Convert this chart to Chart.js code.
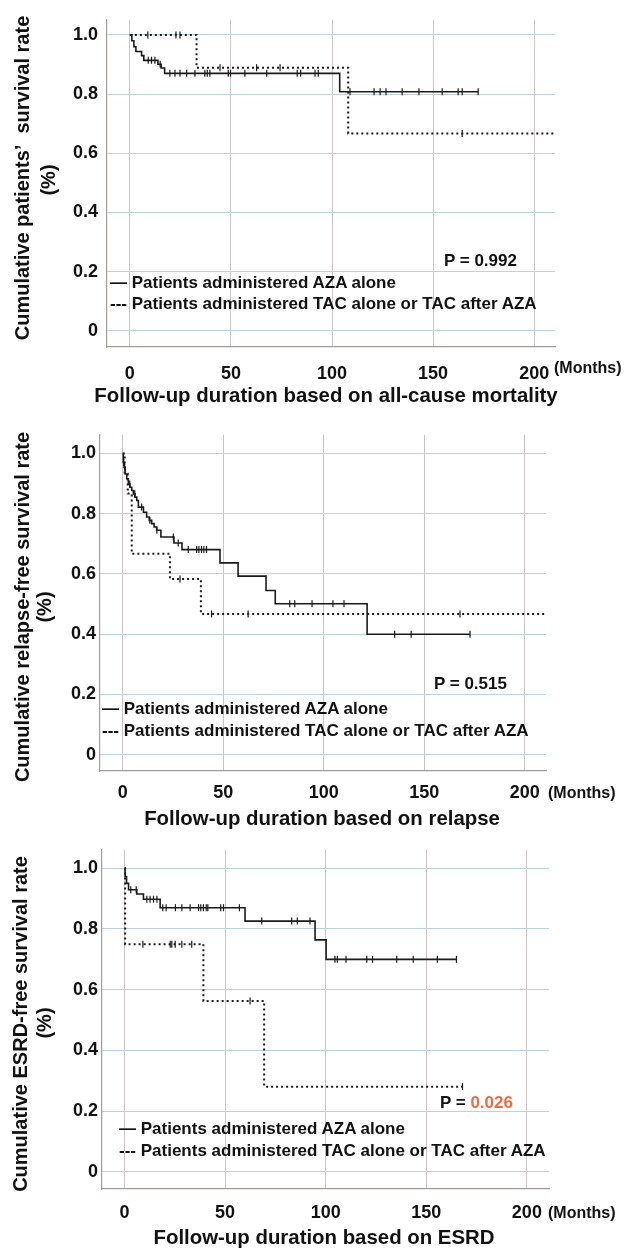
<!DOCTYPE html>
<html><head><meta charset="utf-8">
<script src="https://cdn.jsdelivr.net/npm/chart.js@4.4.1/dist/chart.umd.min.js"></script>
<style>
body{margin:0;background:#fff;}
#wrap{position:relative;width:627px;height:1249px;overflow:hidden;font-family:"Liberation Sans",Arial,sans-serif;font-weight:bold;color:#111;}
canvas{position:absolute;left:0;}
.t{position:absolute;white-space:nowrap;line-height:1;}
.c{transform:translate(-50%,-50%);}
.l{transform:translateY(-50%);}
.r{transform:translate(-50%,-50%) rotate(-90deg);}
.title{font-size:20.4px;}
.yt{font-size:20px;}
.lg{font-size:17px;}
.pv{font-size:17px;}
.mo{font-size:16px;}
</style></head>
<body><div id="wrap">
<canvas id="c1"></canvas><canvas id="c2"></canvas><canvas id="c3"></canvas>

<div class="t r yt" style="left:22px;top:178px;">Cumulative patients’&nbsp; survival rate</div>
<div class="t r yt" style="left:48px;top:180px;">(%)</div>
<div class="t l pv" style="left:444px;top:260px;">P = 0.992</div>
<div class="t l lg" style="left:110px;top:282px;">— Patients administered AZA alone</div>
<div class="t l lg" style="left:110px;top:303px;">--- Patients administered TAC alone or TAC after AZA</div>
<div class="t l mo" style="left:554px;top:368px;">(Months)</div>
<div class="t c title" style="left:326px;top:395px;">Follow-up duration based on all-cause mortality</div>

<div class="t r yt" style="left:22px;top:607px;">Cumulative relapse-free survival rate</div>
<div class="t r yt" style="left:44px;top:607px;">(%)</div>
<div class="t l pv" style="left:434px;top:683px;">P = 0.515</div>
<div class="t l lg" style="left:102px;top:708px;">— Patients administered AZA alone</div>
<div class="t l lg" style="left:102px;top:730px;">--- Patients administered TAC alone or TAC after AZA</div>
<div class="t l mo" style="left:548px;top:793px;">(Months)</div>
<div class="t c title" style="left:322px;top:818px;">Follow-up duration based on relapse</div>

<div class="t r yt" style="left:20px;top:1024px;">Cumulative ESRD-free survival rate</div>
<div class="t r yt" style="left:44px;top:1023px;">(%)</div>
<div class="t l pv" style="left:440px;top:1102px;">P = <span style="color:#f26a3f">0.026</span></div>
<div class="t l lg" style="left:119px;top:1128px;">— Patients administered AZA alone</div>
<div class="t l lg" style="left:119px;top:1150px;">--- Patients administered TAC alone or TAC after AZA</div>
<div class="t l mo" style="left:548px;top:1213px;">(Months)</div>
<div class="t c title" style="left:324px;top:1237px;">Follow-up duration based on ESRD</div>
</div>
<script>
// ---------- DATA ----------
const X_TICKS = [0, 50, 100, 150, 200];
const Y_TICKS = [0, 0.2, 0.4, 0.6, 0.8, 1.0];

// Panel 1: all-cause mortality
const P1_AZA_T = [0, 1, 2, 3, 5.8, 6.9, 13.9, 15.5, 17.2, 103.8, 172.3];
const P1_AZA_S = [1, 0.98, 0.96, 0.944, 0.93, 0.914, 0.901, 0.888, 0.870, 0.808, 0.808];
const P1_AZA_CENSOR = [9.1, 10.7, 12.4, 15, 19.8, 22.3, 24.8, 28.1, 32.2, 37.1, 38.3, 39.6, 48.7, 49.8, 56.9, 67.7, 82.8, 84.5, 91.6, 93.2, 108.9, 120.8, 123.8, 126.7, 134.7, 143, 154.5, 162.4, 164.4, 172.3];
const P1_TAC_T = [0, 33, 108, 212];
const P1_TAC_S = [1, 0.889, 0.667, 0.667];
const P1_TAC_CENSOR = [8.9, 22.8, 24.8, 44.6, 62.7, 74.3, 164.4];

// Panel 2: relapse
const P2_AZA_T = [0, 0.3, 0.7, 1.2, 2, 2.8, 3.6, 4.5, 5.3, 6.1, 7, 7.8, 10.3, 11.9, 13.2, 14.4, 15.6, 16.9, 19, 25.5, 29.5, 48.4, 57.4, 71.3, 75.9, 121.6, 172.8];
const P2_AZA_S = [1, 0.97, 0.954, 0.932, 0.916, 0.899, 0.888, 0.877, 0.866, 0.855, 0.844, 0.822, 0.805, 0.789, 0.778, 0.767, 0.756, 0.745, 0.723, 0.703, 0.681, 0.637, 0.593, 0.545, 0.501, 0.40, 0.40];
const P2_AZA_CENSOR = [0.5, 1, 3.5, 6, 9.4, 13.5, 17, 25.2, 27.6, 32.6, 36.8, 37.9, 39.2, 40.4, 41.7, 83.1, 85.6, 94.2, 104.6, 110.1, 135.3, 143.5, 172.8];
const P2_TAC_T = [0, 1, 2.5, 4.5, 23.5, 38.9, 212];
const P2_TAC_S = [1, 0.933, 0.867, 0.667, 0.583, 0.467, 0.467];
const P2_TAC_CENSOR = [28.5, 44.2, 62.4, 167.8];

// Panel 3: ESRD
const P3_AZA_T = [0, 0.3, 1, 2, 6.1, 9.4, 17.7, 59.9, 94.7, 100.2, 165];
const P3_AZA_S = [1, 0.973, 0.95, 0.929, 0.915, 0.898, 0.870, 0.826, 0.764, 0.70, 0.70];
const P3_AZA_CENSOR = [3.1, 5.8, 11.1, 12.7, 14.4, 16.1, 19, 20.7, 25.3, 28.5, 32.6, 36.8, 37.9, 39.2, 40.6, 41.4, 47.8, 49.2, 57.1, 68.2, 83.1, 85.9, 92.2, 104.6, 105.8, 110.1, 120.4, 123.3, 135.3, 143.5, 155.5, 165];
const P3_TAC_T = [0, 0.3, 39.2, 69.4, 168];
const P3_TAC_S = [1, 0.75, 0.5625, 0.281, 0.281];
const P3_TAC_CENSOR = [9.1, 22.7, 23.5, 25.2, 28.5, 33.4, 62.4, 168];

// ---------- HELPERS ----------
function pts(T, S){ return T.map((t,i)=>({x:t, y:S[i]})); }
function survAt(T, S, t){ let v = S[0]; for (let i=0;i<T.length;i++){ if (T[i] <= t) v = S[i]; } return v; }
function censorPts(T, S, C){ return C.map(t=>({x:t, y:survAt(T,S,t)})); }

const LINE = '#1a1a1a';
const FONT = {family:'"Liberation Sans", Arial, sans-serif', weight:'bold', size:18};

function makeChart(id, cfg){
  const cv = document.getElementById(id);
  cv.width = 627; cv.height = cfg.h;
  cv.style.top = cfg.top + 'px'; cv.style.width='627px'; cv.style.height=cfg.h+'px';
  new Chart(cv, {
    type:'scatter',
    data:{datasets:[
      {data:pts(cfg.aT,cfg.aS), showLine:true, stepped:true, borderColor:LINE, borderWidth:1.6, pointRadius:0, fill:false},
      {data:censorPts(cfg.aT,cfg.aS,cfg.aC), showLine:false, pointStyle:'line', pointRotation:90, pointRadius:3.5, borderColor:LINE, pointBorderColor:LINE, pointBorderWidth:1.2},
      {data:pts(cfg.tT,cfg.tS), showLine:true, stepped:true, borderColor:LINE, borderWidth:2, borderDash:[2,3], pointRadius:0, fill:false},
      {data:censorPts(cfg.tT,cfg.tS,cfg.tC), showLine:false, pointStyle:'line', pointRotation:90, pointRadius:3.5, borderColor:LINE, pointBorderColor:LINE, pointBorderWidth:1.2}
    ]},
    options:{
      responsive:false, animation:false, devicePixelRatio:1,
      layout:{padding:{left:0, right:cfg.rp, top:cfg.tp, bottom:0}},
      plugins:{legend:{display:false}, tooltip:{enabled:false}},
      scales:{
        x:{type:'linear', min:cfg.xmin, max:cfg.xmax,
           afterBuildTicks:s=>{ s.ticks = X_TICKS.map(v=>({value:v})); },
           afterFit:s=>{ s.height = cfg.xh; },
           grid:{color:'#cbc3c6', lineWidth:1, drawTicks:false},
           border:{color:'#a39a9a', width:1.2},
           ticks:{font:FONT, color:'#111', padding:cfg.xpad, maxRotation:0, autoSkip:false, callback:v=>String(v)}},
        y:{type:'linear', min:cfg.ymin, max:cfg.ymax,
           afterBuildTicks:s=>{ s.ticks = Y_TICKS.map(v=>({value:v})); },
           afterFit:s=>{ s.width = cfg.yw; },
           grid:{color:'#bcd2e2', lineWidth:1, drawTicks:false},
           border:{color:'#a39a9a', width:1.2},
           ticks:{font:FONT, color:'#111', padding:cfg.ypad, autoSkip:false, callback:v=> v===0 ? '0' : v.toFixed(1)}}
      }
    }
  });
}

makeChart('c1', {top:0, h:390, yw:107, rp:72, tp:12, xh:43, xpad:16, ypad:9,
  xmin:-11.3, xmax:210.3, ymin:-0.055, ymax:1.051,
  aT:P1_AZA_T, aS:P1_AZA_S, aC:P1_AZA_CENSOR, tT:P1_TAC_T, tS:P1_TAC_S, tC:P1_TAC_CENSOR});
makeChart('c2', {top:420, h:390, yw:100, rp:81, tp:13, xh:39, xpad:11, ypad:4,
  xmin:-11.3, xmax:210.6, ymin:-0.054, ymax:1.062,
  aT:P2_AZA_T, aS:P2_AZA_S, aC:P2_AZA_CENSOR, tT:P2_TAC_T, tS:P2_TAC_S, tC:P2_TAC_CENSOR});
makeChart('c3', {top:830, h:400, yw:102, rp:78, tp:20, xh:41, xpad:13, ypad:4,
  xmin:-11.2, xmax:211, ymin:-0.056, ymax:1.06,
  aT:P3_AZA_T, aS:P3_AZA_S, aC:P3_AZA_CENSOR, tT:P3_TAC_T, tS:P3_TAC_S, tC:P3_TAC_CENSOR});
</script>
</body></html>
